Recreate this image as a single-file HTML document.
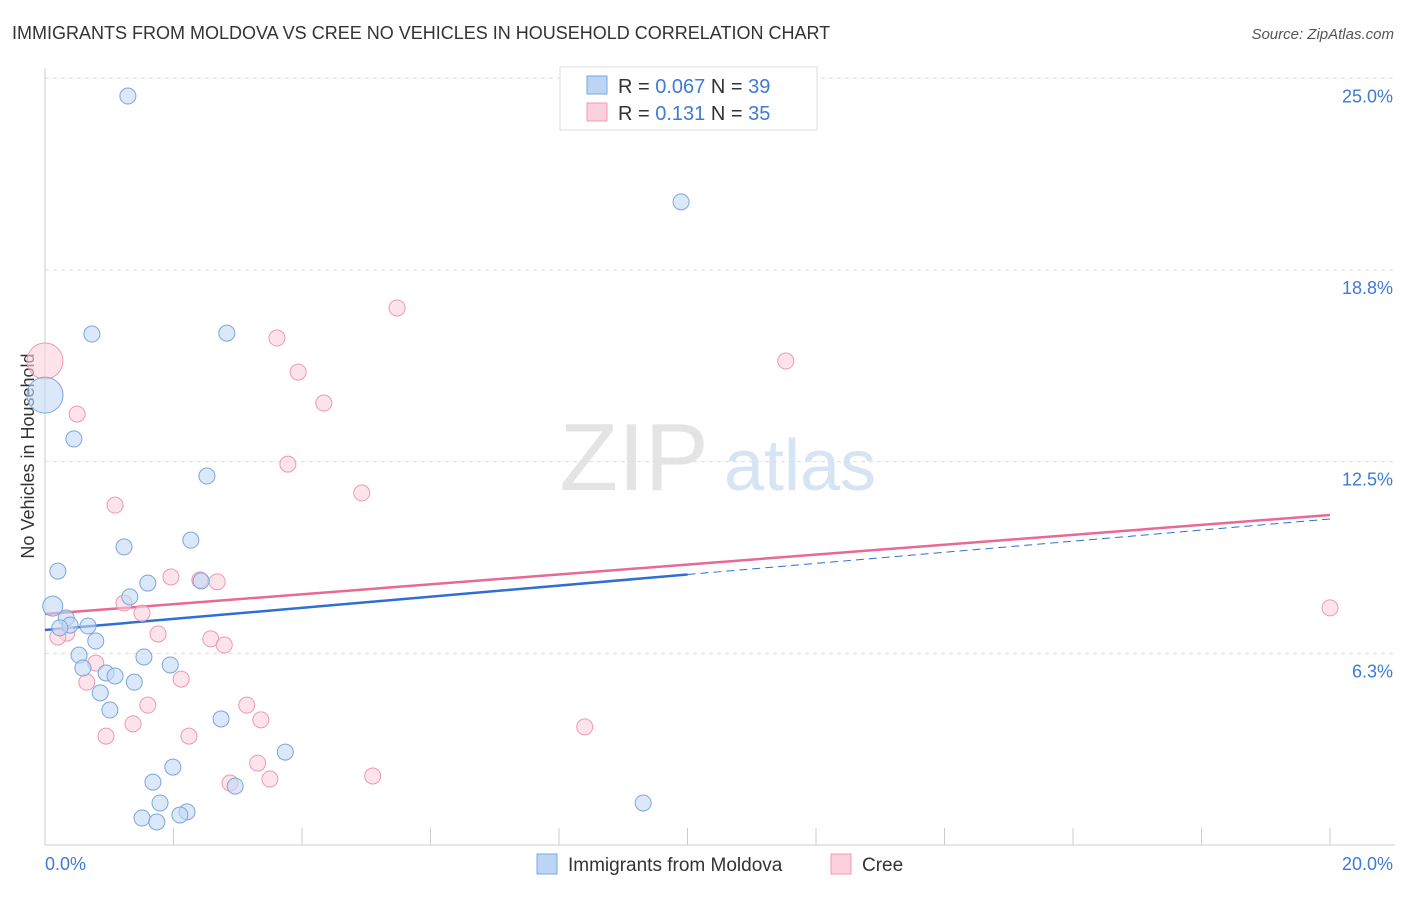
<!DOCTYPE html>
<html><head><meta charset="utf-8"><style>
body{margin:0;background:#fff;font-family:"Liberation Sans",sans-serif;}
svg text{font-family:"Liberation Sans",sans-serif;}
</style></head><body>
<svg id="chart" width="1406" height="892">
<text x="12" y="39" font-size="18" fill="#333">IMMIGRANTS FROM MOLDOVA VS CREE NO VEHICLES IN HOUSEHOLD CORRELATION CHART</text>
<text x="1394" y="39" font-size="15" fill="#555" font-style="italic" text-anchor="end">Source: ZipAtlas.com</text>
<text x="634" y="490" font-size="96" fill="#e4e4e4" font-family="Liberation Serif" text-anchor="middle">ZIP</text>
<text x="800" y="490" font-size="72" fill="#d6e4f4" text-anchor="middle">atlas</text>
<text transform="translate(34,456) rotate(-90)" font-size="18" fill="#333" text-anchor="middle">No Vehicles in Household</text>
<g id="grid"></g><g id="axes"></g><g id="trends"></g><g id="pts"></g>
<g>
<rect x="560" y="67" width="257" height="63" fill="#fff" stroke="#ddd"/>
<rect x="587" y="76" width="20" height="18" fill="#bcd5f5" stroke="#7aa6dd"/>
<rect x="587" y="103" width="20" height="18" fill="#fcd0dc" stroke="#f09ab4"/>
<text x="618" y="93" font-size="20" fill="#333">R = <tspan fill="#3f7ad6">0.067</tspan>   N = <tspan fill="#3f7ad6">39</tspan></text>
<text x="618" y="120" font-size="20" fill="#333">R =  <tspan fill="#3f7ad6"> 0.131</tspan>   N = <tspan fill="#3f7ad6">35</tspan></text>
</g>
<g>
<rect x="537" y="854" width="20" height="20" fill="#bcd5f5" stroke="#7aa6dd"/>
<text x="568" y="871" font-size="19" fill="#333">Immigrants from Moldova</text>
<rect x="831" y="854" width="20" height="20" fill="#fcd0dc" stroke="#f09ab4"/>
<text x="862" y="871" font-size="19" fill="#333">Cree</text>
</g>
</svg>
<script>
const yTicks=[6.3,12.5,18.8,25.0];
const xLabels=["0.0%","20.0%"];
const blueX=[1.29,9.9,0.73,2.83,0,0.45,2.52,1.23,2.27,0.2,1.6,1.32,2.43,0.12,0.33,0.39,0.67,0.23,0.79,0.53,1.54,1.95,0.59,0.95,1.09,1.39,0.86,1.01,2.74,3.74,1.99,1.68,2.96,1.79,9.31,2.21,2.1,1.51,1.74];
const blueY=[24.42,20.97,16.66,16.69,14.67,13.24,12.03,9.72,9.94,8.93,8.54,8.09,8.61,7.79,7.40,7.17,7.14,7.08,6.65,6.19,6.13,5.87,5.77,5.61,5.51,5.31,4.96,4.40,4.11,3.03,2.54,2.05,1.92,1.37,1.37,1.08,0.98,0.88,0.75];
const pinkX=[5.48,3.61,11.53,0,3.94,4.34,0.5,3.78,4.93,1.09,1.96,2.41,2.68,1.23,1.51,20,1.76,0.34,0.2,2.58,2.79,0.79,0.65,2.12,1.6,3.14,3.36,1.37,0.95,2.24,8.4,3.31,2.88,3.5,5.1];
const pinkY=[17.51,16.53,15.78,15.78,15.42,14.41,14.05,12.42,11.48,11.08,8.74,8.64,8.58,7.89,7.56,7.73,6.88,6.91,6.78,6.72,6.52,5.93,5.31,5.41,4.56,4.56,4.08,3.95,3.55,3.55,3.85,2.67,2.02,2.15,2.25];
const blueTrend=[7.01,10.63];
const pinkTrend=[7.53,10.76];
const NS="http://www.w3.org/2000/svg";
const xs=v=>45+v*64.25, ys=v=>845-v*30.67;
function mk(t,a,p){const e=document.createElementNS(NS,t);for(const k in a)e.setAttribute(k,a[k]);p.appendChild(e);return e;}
const grid=document.getElementById('grid'),axes=document.getElementById('axes'),tr=document.getElementById('trends'),pts=document.getElementById('pts');
yTicks.forEach(t=>{const y=ys(t===25?25:t===18.8?18.75:t===12.5?12.5:6.25);
const l=mk('line',{x1:45,x2:1395,y1:y,y2:y,stroke:'#ddd','stroke-dasharray':'4,4'},grid);


const tx=mk('text',{x:1393,y:y+24,'font-size':18,fill:'#3f7ad6','text-anchor':'end'},grid);tx.textContent=t.toFixed(1)+'%';

});
mk('line',{x1:45,x2:45,y1:68,y2:845,stroke:'#ccc'},axes);
mk('line',{x1:45,x2:1395,y1:845,y2:845,stroke:'#ccc'},axes);
for(let i=1;i<=10;i++){const x=xs(i*2);const tk=mk('line',{x1:x,x2:x,y1:828,y2:845,stroke:'#ccc'},axes);

}
[[xLabels[0],45,'start'],[xLabels[1],1393,'end']].forEach(([s,x,a])=>{const t=mk('text',{x:x,y:870,'font-size':18,fill:'#3f7ad6','text-anchor':a},axes);t.textContent=s;

});
function dots(X,Y,fill,stroke,name){X.forEach((v,i)=>{const big=(v===0);const c=mk('circle',{cx:xs(v),cy:ys(Y[i]),r:big?18:(i===13&&name==='blue'?10:8),fill:fill,'fill-opacity':0.6,stroke:stroke,'stroke-width':1},pts);

});}
dots(pinkX,pinkY,'#fbd0dc','#ee99b3','cree');
dots(blueX,blueY,'#c3d9f5','#7aa6dd','blue');
const bm=blueTrend[0]+(blueTrend[1]-blueTrend[0])*10/20;
const b1=mk('line',{x1:xs(0),y1:ys(blueTrend[0]),x2:xs(10),y2:ys(bm),stroke:'#2f6fd3','stroke-width':2.5},tr);


const b2=mk('line',{x1:xs(10),y1:ys(bm),x2:xs(20),y2:ys(blueTrend[1]),stroke:'#2f6fd3','stroke-width':1,'stroke-dasharray':'8,5'},tr);


const p1=mk('line',{x1:xs(0),y1:ys(pinkTrend[0]),x2:xs(20),y2:ys(pinkTrend[1]),stroke:'#e86896','stroke-width':2.5},tr);


</script>
</body></html>
